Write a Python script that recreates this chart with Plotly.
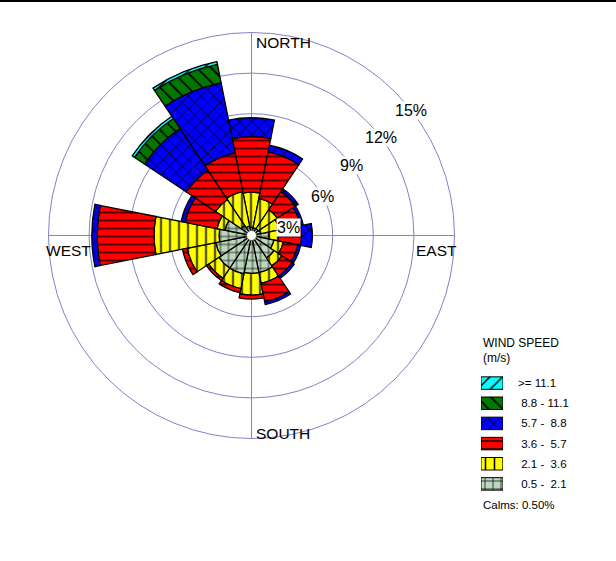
import math
import plotly.graph_objects as go

# ---- wind rose data: frequency (%) per direction and speed class ----
directions = ["N", "NNE", "NE", "ENE", "E", "ESE", "SE", "SSE",
              "S", "SSW", "SW", "WSW", "W", "WNW", "NW", "NNW"]

speed_classes = ["0.5 - 2.1", "2.1 - 3.6", "3.6 - 5.7",
                 "5.7 - 8.8", "8.8 - 11.1", ">= 11.1"]

freq_05_21 = [0.6, 0.6, 0.6, 0.7, 1.3, 1.7, 2.0, 2.8, 2.8, 2.9, 2.9, 2.7, 2.4, 2.0, 0.9, 0.7]
freq_21_36 = [2.6, 2.2, 1.7, 1.4, 0.7, 0.7, 0.7, 0.8, 1.6, 1.1, 0.9, 2.15, 4.8, 0.6, 2.3, 2.6]
freq_36_57 = [4.1, 3.5, 1.6, 1.6, 1.7, 1.1, 0.9, 1.4, 0.3, 0.3, 0.2, 0.35, 4.2, 2.4, 2.6, 2.9]
freq_57_88 = [1.4, 0.5, 0.25, 0.2, 0.8, 0.2, 0.2, 0.2, 0.0, 0.0, 0.0, 0.0, 0.4, 0.3, 3.7, 5.3]
freq_88_111 = [0, 0, 0, 0, 0, 0, 0, 0, 0, 0, 0, 0, 0, 0, 0.9, 1.4]
freq_111_up = [0, 0, 0, 0, 0, 0, 0, 0, 0, 0, 0, 0, 0, 0, 0.2, 0.2]

calms_pct = 0.50

ring_values = [3, 6, 9, 12, 15]
ring_labels = ["3%", "6%", "9%", "12%", "15%"]
compass_labels = ["NORTH", "EAST", "SOUTH", "WEST"]

# ---- styling ----
FONT = "Liberation Sans, Arial, sans-serif"
GRID = "rgb(130,130,200)"
fills = ["#bdd7bd", "#ffff00", "#ff0000", "#0000ff", "#007800", "#00ffff"]
shapes_ = ["+", "|", "-", "x", "\\", "/"]
sizes_ = [8, 9, 8, 9, 10, 9]
series = [freq_05_21, freq_21_36, freq_36_57, freq_57_88, freq_88_111, freq_111_up]

theta = [i * 360.0 / len(directions) for i in range(len(directions))]
r_max = ring_values[-1]

# plot geometry (paper fractions) for the rose
W, H = 616, 561
cx, cy, rad = 251.5, 235.5, 203.0
dom_x = [(cx - rad) / W, (cx + rad) / W]
dom_y = [(H - cy - rad) / H, (H - cy + rad) / H]

fig = go.Figure()

for vals, fill, shp, sz, name in zip(series, fills, shapes_, sizes_, speed_classes):
    fig.add_trace(go.Barpolar(
        r=vals, theta=theta, width=[22.5] * len(theta), name=name,
        marker=dict(color=fill,
                    line=dict(color="black", width=1.3),
                    pattern=dict(shape=shp, fgcolor="black", bgcolor=fill,
                                 size=sz, solidity=0.17, fillmode="replace")),
        showlegend=False, hoverinfo="skip"))

# calm centre circle
fig.add_trace(go.Scatterpolar(
    r=[0], theta=[0], mode="markers",
    marker=dict(size=10, color="white", line=dict(color="#555", width=1)),
    showlegend=False, hoverinfo="skip"))

# invisible cartesian overlay sharing the rose geometry (for text placement)
fig.add_trace(go.Scatter(x=[0], y=[0], mode="markers", marker=dict(opacity=0),
                         showlegend=False, hoverinfo="skip",
                         xaxis="x", yaxis="y"))

# legend swatches drawn as patterned bars
legend_rows = list(range(len(speed_classes)))
for row, fill, shp, sz in zip(legend_rows, fills, shapes_, sizes_):
    fig.add_trace(go.Bar(
        x=[1], y=[row], base=0, orientation="h", width=0.62,
        marker=dict(color=fill, line=dict(color="black", width=1),
                    pattern=dict(shape=shp, fgcolor="black", bgcolor=fill,
                                 size=sz, solidity=0.17, fillmode="replace")),
        showlegend=False, hoverinfo="skip", xaxis="x2", yaxis="y2"))

annotations = []

# ring labels placed along the rings
label_angles = [77, 61, 55, 53, 52]
for v, txt, a in zip(ring_values, ring_labels, label_angles):
    rr = v * 0.93 if v == 3 else v
    annotations.append(dict(
        x=rr * math.sin(math.radians(a)), y=rr * math.cos(math.radians(a)),
        xref="x", yref="y", text=txt, showarrow=False,
        font=dict(family=FONT, size=16, color="black"),
        bgcolor="white", borderpad=0, xanchor="center", yanchor="middle"))

# compass labels
compass_pos = [
    dict(x=0, y=r_max, xanchor="left", yanchor="top", xshift=2, yshift=1),
    dict(x=r_max, y=0, xanchor="right", yanchor="top", xshift=4, yshift=-4),
    dict(x=0, y=-r_max, xanchor="left", yanchor="bottom", xshift=2, yshift=-5),
    dict(x=-r_max, y=0, xanchor="left", yanchor="top", xshift=-5, yshift=-4),
]
for txt, pos in zip(compass_labels, compass_pos):
    annotations.append(dict(text=txt, xref="x", yref="y", showarrow=False,
                            font=dict(family=FONT, size=15.5, color="black"), **pos))

# legend texts
leg_x = 481 / W
annotations.append(dict(text="WIND SPEED", x=leg_x, y=1 - 343 / H, xref="paper", yref="paper",
                        xanchor="left", yanchor="middle", showarrow=False,
                        font=dict(family=FONT, size=12, color="black")))
annotations.append(dict(text="(m/s)", x=leg_x, y=1 - 358 / H, xref="paper", yref="paper",
                        xanchor="left", yanchor="middle", showarrow=False,
                        font=dict(family=FONT, size=12, color="black")))
legend_text = [">= 11.1", "\u00a08.8 - 11.1", "\u00a05.7 -\u00a0\u00a08.8",
               "\u00a03.6 -\u00a0\u00a05.7", "\u00a02.1 -\u00a0\u00a03.6", "\u00a00.5 -\u00a0\u00a02.1"]
for row, txt in zip(reversed(legend_rows), legend_text):
    annotations.append(dict(text=txt, x=516 / W, y=row, xref="paper", yref="y2",
                            xanchor="left", yanchor="middle", showarrow=False,
                            font=dict(family=FONT, size=11.5, color="black")))
annotations.append(dict(text="Calms: %.2f%%" % calms_pct, x=leg_x, y=1 - 505 / H,
                        xref="paper", yref="paper", xanchor="left", yanchor="middle",
                        showarrow=False, font=dict(family=FONT, size=11.5, color="black")))

leg_top, leg_bot = 373, 494

fig.update_layout(
    width=W, height=H, margin=dict(l=0, r=0, t=0, b=0),
    paper_bgcolor="white", plot_bgcolor="rgba(0,0,0,0)",
    polar=dict(
        domain=dict(x=dom_x, y=dom_y),
        bgcolor="white", barmode="stack", hole=0,
        radialaxis=dict(range=[0, r_max], tickvals=ring_values, showticklabels=False,
                        ticks="", showline=False, gridcolor=GRID, gridwidth=1),
        angularaxis=dict(rotation=90, direction="clockwise", tickvals=[0, 90, 180, 270],
                         showticklabels=False, ticks="", gridcolor=GRID, gridwidth=1,
                         showline=True, linecolor=GRID, linewidth=1),
    ),
    xaxis=dict(domain=dom_x, range=[-r_max, r_max], visible=False, fixedrange=True),
    yaxis=dict(domain=dom_y, range=[-r_max, r_max], visible=False, fixedrange=True),
    xaxis2=dict(domain=[481 / W, 503 / W], range=[0, 1], visible=False, fixedrange=True),
    yaxis2=dict(domain=[1 - leg_bot / H, 1 - leg_top / H], range=[-0.5, 5.5],
                visible=False, fixedrange=True),
    barmode="overlay",
    annotations=annotations,
    shapes=[dict(type="rect", xref="paper", yref="paper", x0=0, x1=1,
                 y0=1 - 2 / H, y1=1, fillcolor="black", line=dict(width=0))],
)

fig.write_html("out.html")
